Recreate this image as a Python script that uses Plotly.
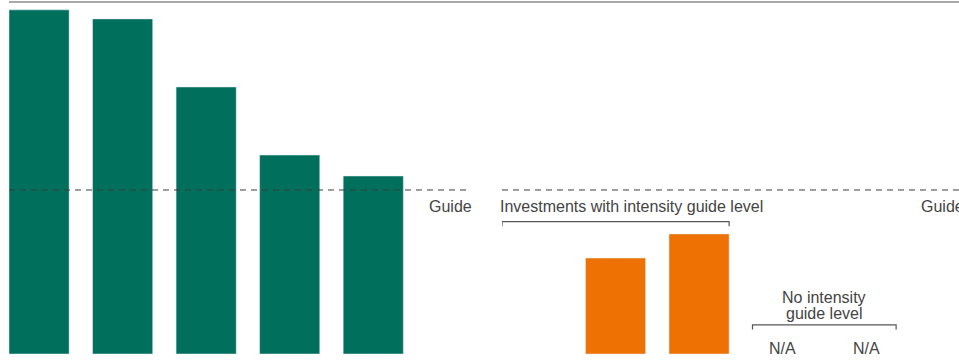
import plotly.graph_objects as go
from plotly.subplots import make_subplots

# intensity index, guide level = 100
GUIDE = 100
left_cats = ["Fund A", "Fund B", "Fund C", "Fund D", "Fund E"]
left_vals = [209.8, 204.3, 162.8, 121.3, 108.5]
right_cats = ["", "Investment F", "Investment G", "Investment H", "Investment I"]
right_vals = [None, 58.5, 73.2, None, None]
na_cats = ["Investment H", "Investment I"]

GREEN = "#006F5B"
ORANGE = "#EE7203"
TEXT = "#444444"
FONT = "Liberation Sans"

W, H = 959, 360
PX_PER_UNIT = 352 / 214.6
fig = make_subplots(rows=1, cols=2, horizontal_spacing=0)

fig.add_trace(go.Bar(x=left_cats, y=left_vals, marker_color=GREEN, width=0.72,
                     hoverinfo="x+y"), row=1, col=1)
fig.add_trace(go.Bar(x=right_cats, y=right_vals, marker_color=ORANGE, width=0.72,
                     hoverinfo="x+y"), row=1, col=2)

# px per category slot ~83.5, bars start at panel edge
fig.update_xaxes(range=[-0.36, 5.17], domain=[9 / W, 471 / W], row=1, col=1)
fig.update_xaxes(range=[-0.36, -0.36 + 457 / 83.5], domain=[502 / W, 1], row=1, col=2)
fig.update_xaxes(showticklabels=False, showgrid=False, zeroline=False, showline=False,
                 type="category")
fig.update_yaxes(range=[0, 214.6], showticklabels=False, showgrid=False,
                 zeroline=False, showline=False)

# guide lines
for xr, yr in [("x domain", "y"), ("x2 domain", "y2")]:
    fig.add_shape(type="line", xref=xr, yref=yr, x0=0, x1=1 if xr == "x domain" else 1.02,
                  y0=GUIDE, y1=GUIDE, line=dict(color="#3d3d3d", width=1, dash="6px,5px"))

# top rule
fig.add_shape(type="line", xref="paper", yref="paper", x0=9 / W, x1=1, y0=1, y1=1,
              line=dict(color="#8c8c8c", width=1.5))

fig.add_annotation(xref="x domain", yref="y", x=1, y=GUIDE, text="Guide",
                   xanchor="right", yanchor="top", xshift=3, yshift=-6, showarrow=False)
fig.add_annotation(xref="paper", yref="y2", x=963 / W, y=GUIDE, text="Guide",
                   xanchor="right", yanchor="top", xshift=3, yshift=-6, showarrow=False)
fig.add_annotation(xref="paper", yref="y2", x=498 / W, y=GUIDE,
                   text="Investments with intensity guide level",
                   xanchor="left", yanchor="top", yshift=-6, showarrow=False)


def bracket(x0, x1, y, tick=2.8):
    fig.add_shape(type="path", xref="x2", yref="y2",
                  path=f"M {x0},{y - tick} L {x0},{y} L {x1},{y} L {x1},{y - tick}",
                  line=dict(color="#555", width=1.2))


bracket(-0.36, 2.36, 80.7)
bracket(2.64, 4.36, 17.7)

for txt, px in [("No intensity", 56.5), ("guide level", 40.5)]:
    fig.add_annotation(xref="x2", yref="y2", x=3.5, y=px / PX_PER_UNIT, text=txt,
                       yanchor="middle", showarrow=False)
for c in na_cats:
    fig.add_annotation(xref="x2", yref="y2", x=c, y=0, text="N/A",
                       yanchor="middle", yshift=6, showarrow=False)

fig.update_layout(
    width=W, height=H,
    margin=dict(l=0, r=0, t=2, b=6),
    plot_bgcolor="white", paper_bgcolor="white",
    showlegend=False,
    font=dict(family=FONT, size=16, color=TEXT),
)

fig.write_html("out.html", config={"displayModeBar": False},
               post_script="document.body.style.margin='0';")
